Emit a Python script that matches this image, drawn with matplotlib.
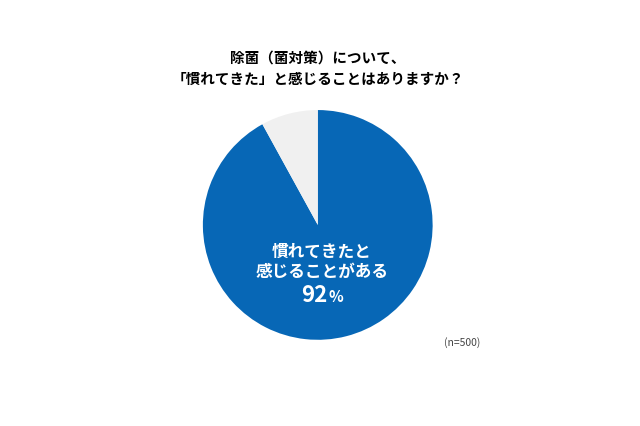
import matplotlib
matplotlib.use('Agg')
import matplotlib.pyplot as plt

plt.rcParams['font.family'] = ['Noto Sans CJK JP', 'DejaVu Sans']

labels = ['慣れてきたと\n感じることがある', 'その他']
values = [92, 8]
colors = ['#0767b6', '#f0f0f0']
title = '除菌（菌対策）について、\n「慣れてきた」と感じることはありますか？'
note = '(n=500)'

fig = plt.figure(figsize=(6.4, 4.26), dpi=100)
ax = fig.add_axes([0.317, 0.202, 0.359, 0.54])

ax.pie(values, colors=colors, startangle=90, counterclock=False,
       wedgeprops=dict(linewidth=0))
ax.set_xlim(-1, 1)
ax.set_ylim(-1, 1)
ax.set_aspect('equal')
ax.axis('off')

fig.text(0.497, 0.84, title, ha='center', va='center', fontsize=10.5,
         fontweight='bold', linespacing=1.45)

ax.text(0.035, -0.32, labels[0], ha='center', va='center', color='white',
        fontsize=12, fontweight='bold', linespacing=1.2)
# big number, smaller percent sign
ax.text(0.085, -0.67, f'{values[0]}', ha='right', va='baseline', color='white',
        fontsize=16, fontweight='bold')
ax.text(0.09, -0.67, '%', ha='left', va='baseline', color='white',
        fontsize=11, fontweight='bold')

fig.text(0.722, 0.195, note, ha='center', va='center', fontsize=7.5, color='#444444')

fig.savefig('out.png', dpi=100)
